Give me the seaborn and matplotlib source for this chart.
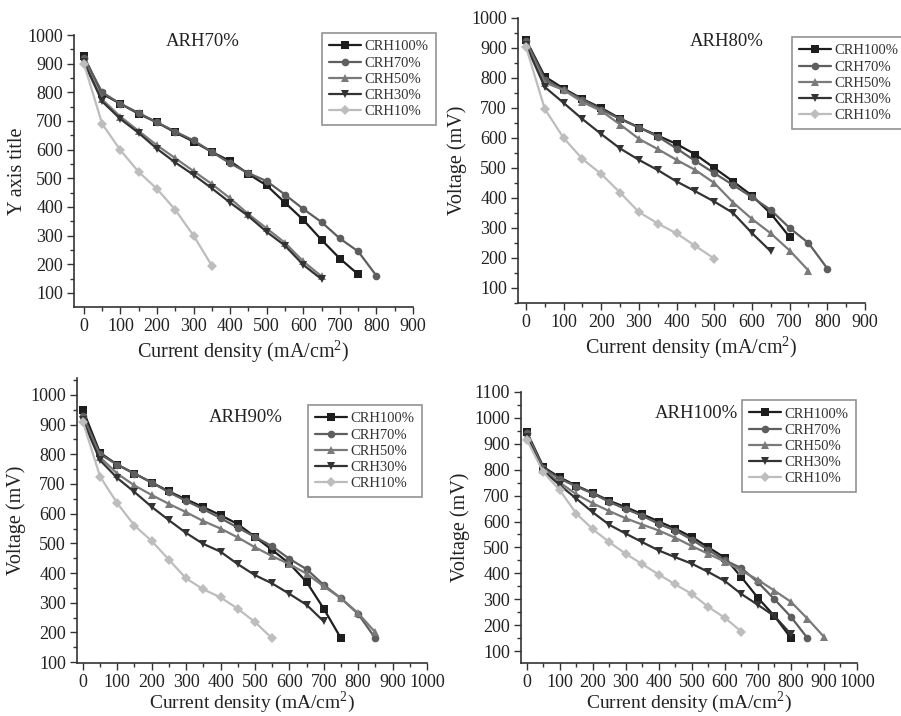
import numpy as np
import pandas as pd
import matplotlib
matplotlib.use("Agg")
import matplotlib.pyplot as plt
from matplotlib.ticker import MultipleLocator
import seaborn as sns

sns.set_style("ticks")
plt.rcParams['font.family'] = ['Liberation Serif', 'DejaVu Serif']
plt.rcParams['mathtext.fontset'] = 'custom'
plt.rcParams['mathtext.rm'] = 'Liberation Serif'

series_names = ["CRH100%", "CRH70%", "CRH50%", "CRH30%", "CRH10%"]

# ARH70%
arh70_crh100 = [925, 795, 760, 725, 695, 660, 628, 592, 560, 515, 475, 415, 355, 285, 220, 165]
arh70_crh70 = [920, 800, 760, 728, 695, 663, 632, 592, 552, 518, 490, 443, 393, 347, 290, 245, 160]
arh70_crh50 = [910, 775, 715, 665, 615, 570, 525, 480, 430, 375, 325, 275, 210, 158]
arh70_crh30 = [905, 768, 707, 658, 603, 555, 512, 465, 415, 368, 313, 265, 198, 148]
arh70_crh10 = [900, 690, 598, 522, 463, 390, 300, 195]

# ARH80%
arh80_crh100 = [928, 805, 765, 730, 700, 665, 635, 608, 580, 545, 500, 455, 408, 348, 270]
arh80_crh70 = [925, 795, 760, 728, 695, 663, 635, 605, 565, 523, 483, 443, 403, 360, 300, 250, 165]
arh80_crh50 = [915, 785, 760, 720, 690, 645, 597, 563, 527, 493, 450, 385, 330, 282, 225, 158]
arh80_crh30 = [910, 770, 717, 663, 613, 565, 527, 493, 455, 422, 388, 350, 283, 222]
arh80_crh10 = [905, 697, 600, 530, 480, 418, 353, 315, 282, 240, 198]

# ARH90%
arh90_crh100 = [950, 805, 765, 735, 705, 675, 648, 622, 595, 565, 522, 478, 432, 370, 280, 180]
arh90_crh70 = [930, 800, 765, 735, 705, 672, 643, 615, 585, 553, 522, 490, 448, 413, 360, 315, 262, 180]
arh90_crh50 = [920, 790, 735, 695, 663, 633, 605, 575, 550, 520, 487, 457, 430, 398, 355, 315, 265, 200]
arh90_crh30 = [915, 780, 720, 673, 623, 578, 535, 498, 472, 430, 393, 365, 330, 293, 237]
arh90_crh10 = [910, 725, 635, 560, 508, 445, 382, 345, 318, 280, 235, 180]

# ARH100%
arh100_crh100 = [945, 810, 770, 738, 710, 680, 655, 628, 600, 572, 540, 500, 460, 385, 305, 235, 150]
arh100_crh70 = [940, 805, 765, 735, 708, 675, 648, 622, 590, 565, 530, 490, 450, 420, 365, 300, 232, 150]
arh100_crh50 = [930, 800, 750, 705, 670, 640, 612, 588, 565, 537, 505, 475, 445, 410, 375, 333, 290, 225, 155]
arh100_crh30 = [925, 795, 740, 688, 635, 587, 553, 520, 488, 462, 437, 405, 370, 320, 278, 235, 165]
arh100_crh10 = [915, 790, 720, 630, 570, 520, 475, 435, 395, 357, 320, 270, 228, 175]

current_step = 50  # mA/cm2 spacing of measurement points

panel_titles = ["ARH70%", "ARH80%", "ARH90%", "ARH100%"]
panel_series = [
    [arh70_crh100, arh70_crh70, arh70_crh50, arh70_crh30, arh70_crh10],
    [arh80_crh100, arh80_crh70, arh80_crh50, arh80_crh30, arh80_crh10],
    [arh90_crh100, arh90_crh70, arh90_crh50, arh90_crh30, arh90_crh10],
    [arh100_crh100, arh100_crh70, arh100_crh50, arh100_crh30, arh100_crh10],
]
y_titles = ["Y axis title", "Voltage (mV)", "Voltage (mV)", "Voltage (mV)"]
x_title = "Current density (mA/cm$^2$)"

palette = {"CRH100%": "#1e1e1e", "CRH70%": "#5e5e5e", "CRH50%": "#7a7a7a",
           "CRH30%": "#333333", "CRH10%": "#bdbdbd"}
markers = {"CRH100%": "s", "CRH70%": "o", "CRH50%": "^", "CRH30%": "v", "CRH10%": "D"}

W, H = 901, 716
fig = plt.figure(figsize=(W / 100, H / 100), dpi=100)

# pixel boxes: left, right, top, bottom
boxes = [(74, 413, 35, 307), (518, 865, 18, 303), (77, 427, 378, 663), (521, 857, 392, 663)]
xlims = [(-27, 900), (-21, 900), (-17, 1000), (-18, 1000)]
ylims = [(51, 1000), (50, 1000), (97, 1057), (54, 1100)]
xmaxtick = [900, 900, 1000, 1000]
ymaxtick = [1000, 1000, 1000, 1100]
title_pos = [(203, 42), (727, 42), (246, 418), (696, 414)]
legend_box = [(322, 33), (792, 37), (308, 405), (742, 400)]  # upper-left corner px
xlabel_pad = [2, 2, -1, -1]
xlabel_size = [14.5, 14.5, 14, 14]
ylabel_pad = [0, 3, 3, 3]

for i in range(4):
    l, r, t, b = boxes[i]
    ax = fig.add_axes([l / W, 1 - b / H, (r - l) / W, (b - t) / H])
    rows = []
    for name, vals in zip(series_names, panel_series[i]):
        for k, v in enumerate(vals):
            rows.append({"x": k * current_step, "y": v, "series": name})
    df = pd.DataFrame(rows)
    sns.lineplot(data=df, x="x", y="y", hue="series", style="series",
                 hue_order=series_names, style_order=series_names,
                 palette=palette, markers=markers, dashes=False,
                 estimator=None, sort=False, lw=1.6, markersize=5.5,
                 markeredgewidth=0, ax=ax)
    ax.set_xlim(*xlims[i])
    ax.set_ylim(*ylims[i])
    ax.set_xticks(np.arange(0, xmaxtick[i] + 1, 100))
    ax.set_yticks(np.arange(100, ymaxtick[i] + 1, 100))
    ax.xaxis.set_minor_locator(MultipleLocator(50))
    ax.yaxis.set_minor_locator(MultipleLocator(50))
    ax.tick_params(which="major", direction="out", length=5, width=1, color="#333333",
                   labelsize=13, labelcolor="#222222", pad=3)
    ax.tick_params(which="minor", direction="out", length=3, width=1, color="#333333")
    for s in ["top", "right"]:
        ax.spines[s].set_visible(False)
    for s in ["left", "bottom"]:
        ax.spines[s].set_color("#333333")
        ax.spines[s].set_linewidth(1.2)
    ax.set_xlabel(x_title, fontsize=xlabel_size[i], color="#222222", labelpad=xlabel_pad[i])
    ax.set_ylabel(y_titles[i], fontsize=14.5, color="#222222", labelpad=ylabel_pad[i])
    tx, ty = title_pos[i]
    fig.text(tx / W, 1 - ty / H, panel_titles[i], fontsize=13.5, ha="center", va="center",
             color="#222222")
    handles, labels = ax.get_legend_handles_labels()
    lx, ly = legend_box[i]
    leg = ax.legend(handles, labels, loc="upper left",
                    bbox_to_anchor=(lx / W, 1 - ly / H), bbox_transform=fig.transFigure,
                    fontsize=10.5, frameon=True, fancybox=False, handlelength=2.2,
                    handletextpad=0.2, labelspacing=0.2, borderpad=0.5,
                    borderaxespad=0)
    leg.get_frame().set_edgecolor("#777777")
    leg.get_frame().set_linewidth(1.2)
    for txt in leg.get_texts():
        txt.set_color("#333333")

fig.savefig("out.png", dpi=100)
